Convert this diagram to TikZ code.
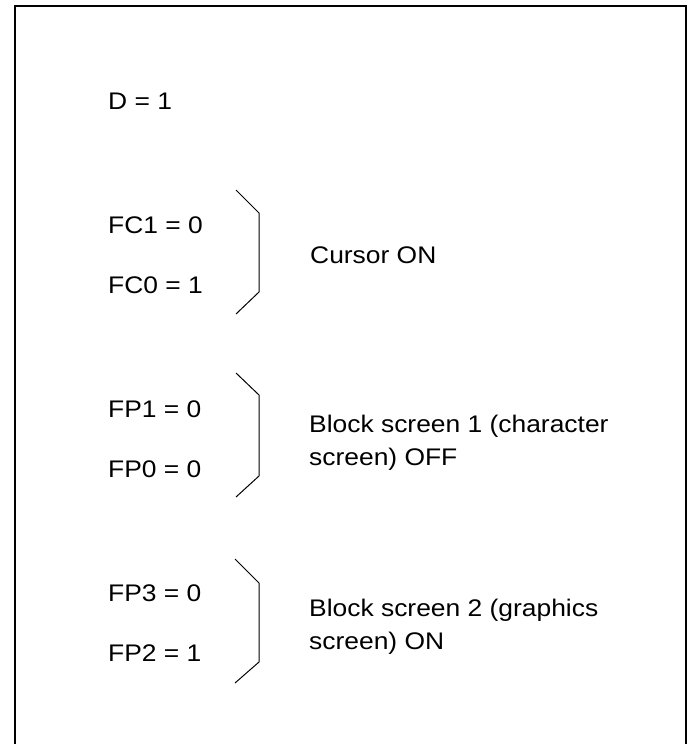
\documentclass[tikz,border=0pt]{standalone}
\usepackage{fontspec}
\setmainfont[FakeStretch=1.1]{Liberation Sans}
\begin{document}
\begin{tikzpicture}[x=1pt,y=1pt,
  lbl/.style={anchor=base west,inner sep=0pt,font=\fontsize{24}{33}\selectfont,align=left},
  frame/.style={line width=2pt},
  brace/.style={line width=1pt,line join=miter}]
\useasboundingbox (0,0) rectangle (692,-744);
\draw[frame] (15,-744) -- (15,-6) -- (686,-6) -- (686,-744);

\node[lbl] (d) at (108,-109) {D = 1};

\node[lbl] (fc1) at (108,-233) {FC1 = 0};
\node[lbl] (fc0) at (108,-293) {FC0 = 1};
\draw[brace] (236,-190) -- (259,-213) -- (259,-292) -- (236,-314);
\node[lbl] (cur) at (310,-263) {Cursor ON};

\node[lbl] (fp1) at (108,-417) {FP1 = 0};
\node[lbl] (fp0) at (108,-477) {FP0 = 0};
\draw[brace] (236,-373) -- (259,-395) -- (259,-476) -- (236,-497);
\node[lbl] (bs1) at (309,-465) {Block screen 1 (character\\screen) OFF};

\node[lbl] (fp3) at (108,-601) {FP3 = 0};
\node[lbl] (fp2) at (108,-661) {FP2 = 1};
\draw[brace] (235,-559) -- (259,-583) -- (259,-662) -- (235,-683);
\node[lbl] (bs2) at (309,-649) {Block screen 2 (graphics\\screen) ON};
\end{tikzpicture}
\end{document}
